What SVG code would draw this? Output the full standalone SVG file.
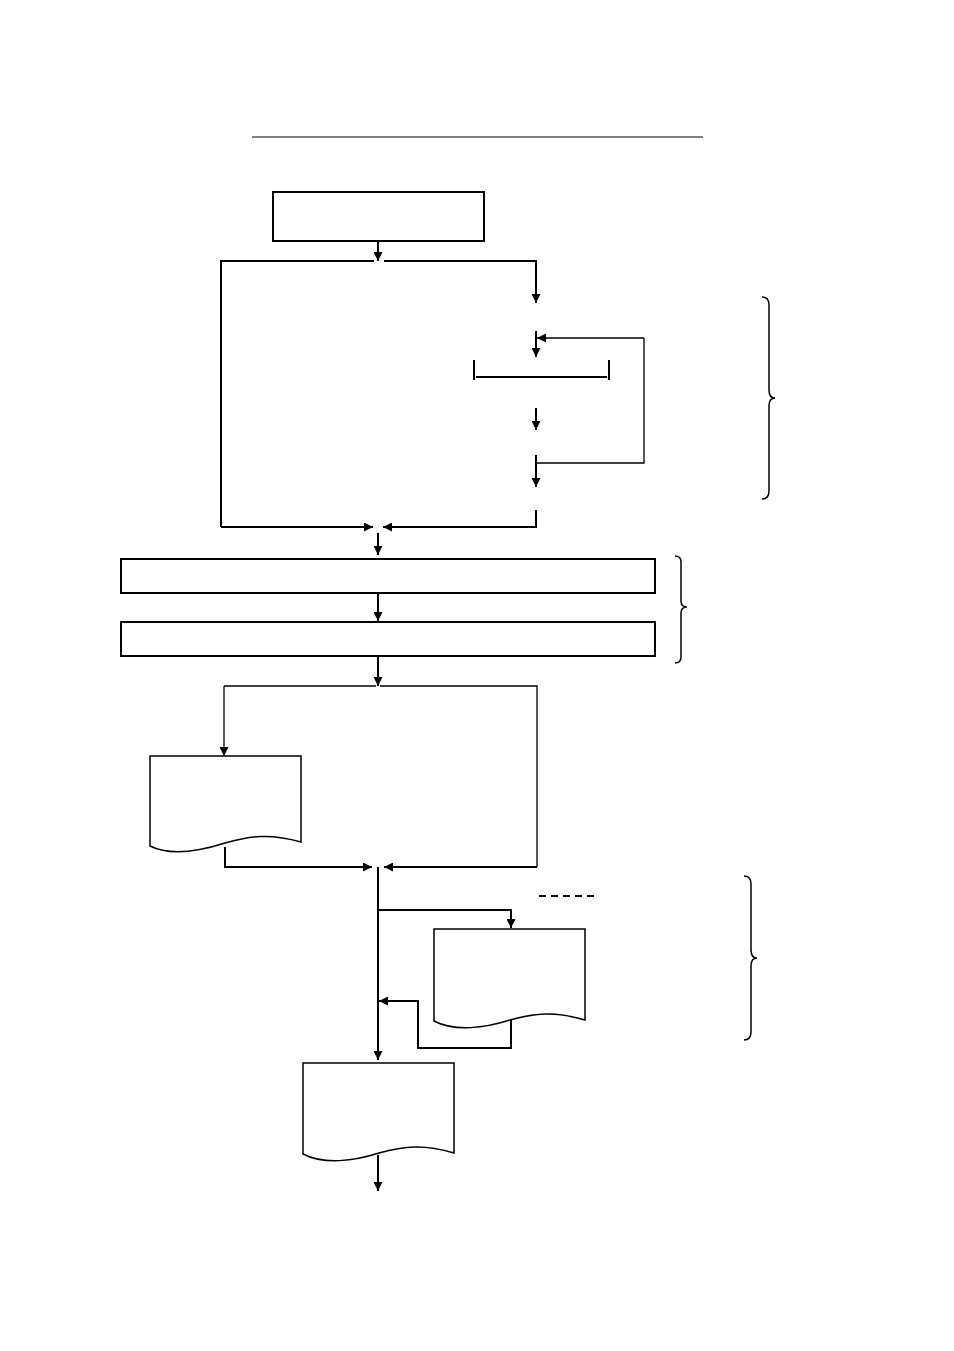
<svg xmlns="http://www.w3.org/2000/svg" width="954" height="1351" viewBox="0 0 954 1351">
<style>
.n{fill:#fff;stroke:#000;stroke-width:2}
.d{fill:#fff;stroke:#000;stroke-width:1.5}
.c{fill:none;stroke:#000;stroke-width:2}
.t{fill:none;stroke:#000;stroke-width:1.3}
</style>
<defs>
<marker id="a" viewBox="0 0 10 10" refX="10" refY="5" markerWidth="4.5" markerHeight="4.5" markerUnits="strokeWidth" orient="auto"><path d="M0,0L10,5L0,10z" fill="#000"/></marker>
<marker id="b" viewBox="0 0 10 10" refX="10" refY="5" markerWidth="7" markerHeight="7" markerUnits="strokeWidth" orient="auto"><path d="M0,0L10,5L0,10z" fill="#000"/></marker>
</defs>
<rect width="954" height="1351" fill="#fff"/>
<line x1="252" y1="137" x2="703" y2="137" stroke="#000" stroke-width="1"/>
<g id="start"><rect class="n" x="273" y="192" width="211" height="49"/></g>
<g id="bar"><path class="c" d="M474,360V380M609,360V380M476,377H607"/></g>
<g id="step1"><rect class="n" x="121" y="559" width="534" height="34"/></g>
<g id="step2"><rect class="n" x="121" y="622" width="534" height="34"/></g>
<g id="doc1"><path class="d" d="M150,756H301V842C270,833 250,836 225,843C200,851 170,856 150,846Z"/></g>
<g id="doc2"><path class="d" d="M434,929H585V1020C555,1011 535,1013 510,1020C485,1028 455,1032 434,1021Z"/></g>
<g id="doc3"><path class="d" d="M303,1063H454V1153C424,1144 404,1146 379,1153C354,1161 324,1165 303,1154Z"/></g>
<g id="connectors">
<path class="c" marker-end="url(#a)" d="M378,241V261"/>
<path class="c" d="M374,261H221V527"/>
<path class="c" marker-end="url(#a)" d="M384,261H536V303"/>
<path class="c" marker-end="url(#a)" d="M536,331V357"/>
<path class="t" marker-end="url(#b)" d="M644,338V338H537"/>
<path class="t" d="M644,338V463H536"/>
<path class="c" marker-end="url(#a)" d="M536,408V430"/>
<path class="c" marker-end="url(#a)" d="M536,455V487"/>
<path class="c" marker-end="url(#a)" d="M221,527H373"/>
<path class="c" marker-end="url(#a)" d="M536,510V527H383"/>
<path class="c" marker-end="url(#a)" d="M378,533V555"/>
<path class="c" marker-end="url(#a)" d="M378,593V621"/>
<path class="c" marker-end="url(#a)" d="M378,656V686"/>
<path class="t" d="M376,686H224"/>
<path class="t" marker-end="url(#b)" d="M224,686V756"/>
<path class="t" d="M380,686H537V867"/>
<path class="c" marker-end="url(#a)" d="M225,847V867H372"/>
<path class="c" marker-end="url(#a)" d="M537,867H384"/>
<path class="c" marker-end="url(#a)" d="M378,867V1060"/>
<path class="c" marker-end="url(#a)" d="M378,910H511V928"/>
<path class="c" marker-end="url(#a)" d="M511,1020V1048H418V1001H379"/>
<path class="c" marker-end="url(#a)" d="M378,1155V1191"/>
</g>
<line x1="539" y1="896" x2="598" y2="896" stroke="#000" stroke-width="2" stroke-dasharray="7,5"/>
<g id="braces" fill="none" stroke="#000" stroke-width="1.5">
<path d="M762,297Q769,297 769,305V390Q769,398 775,398Q769,398 769,406V491Q769,499 762,499"/>
<path d="M675,556Q681,556 681,562V601Q681,607 687,607Q681,607 681,613V657Q681,663 675,663"/>
<path d="M744,876Q751,876 751,884V950Q751,958 757,958Q751,958 751,966V1032Q751,1040 744,1040"/>
</g>
</svg>
